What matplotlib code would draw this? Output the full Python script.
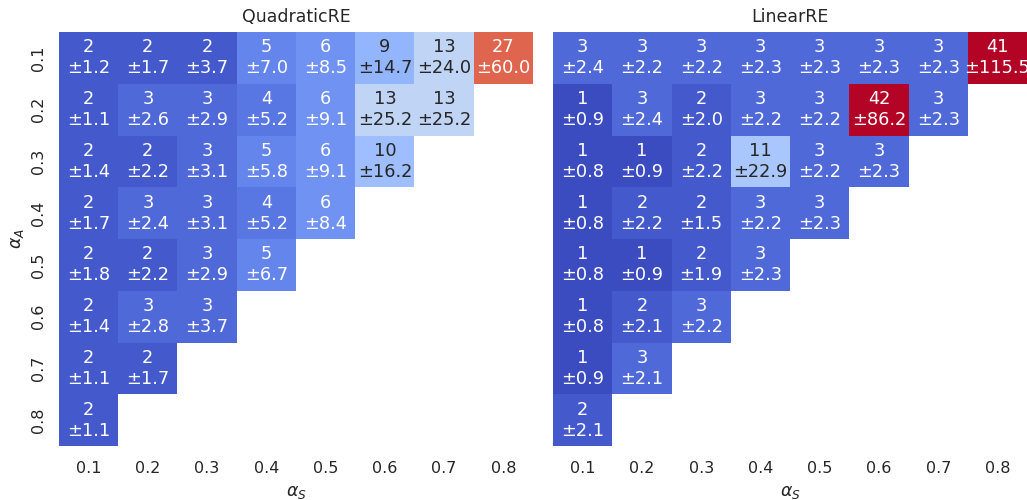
import numpy as np
import matplotlib
matplotlib.use("Agg")
import matplotlib.pyplot as plt
import seaborn as sns

alphas = ["0.1", "0.2", "0.3", "0.4", "0.5", "0.6", "0.7", "0.8"]

# rows = alpha_A, cols = alpha_S (upper-left triangle only)
quad_mean = [
    [2, 2, 2, 5, 6, 9, 13, 27],
    [2, 3, 3, 4, 6, 13, 13],
    [2, 2, 3, 5, 6, 10],
    [2, 3, 3, 4, 6],
    [2, 2, 3, 5],
    [2, 3, 3],
    [2, 2],
    [2],
]
quad_std = [
    [1.2, 1.7, 3.7, 7.0, 8.5, 14.7, 24.0, 60.0],
    [1.1, 2.6, 2.9, 5.2, 9.1, 25.2, 25.2],
    [1.4, 2.2, 3.1, 5.8, 9.1, 16.2],
    [1.7, 2.4, 3.1, 5.2, 8.4],
    [1.8, 2.2, 2.9, 6.7],
    [1.4, 2.8, 3.7],
    [1.1, 1.7],
    [1.1],
]
lin_mean = [
    [3, 3, 3, 3, 3, 3, 3, 41],
    [1, 3, 2, 3, 3, 42, 3],
    [1, 1, 2, 11, 3, 3],
    [1, 2, 2, 3, 3],
    [1, 1, 2, 3],
    [1, 2, 3],
    [1, 3],
    [2],
]
lin_std = [
    [2.4, 2.2, 2.2, 2.3, 2.3, 2.3, 2.3, 115.5],
    [0.9, 2.4, 2.0, 2.2, 2.2, 86.2, 2.3],
    [0.8, 0.9, 2.2, 22.9, 2.2, 2.3],
    [0.8, 2.2, 1.5, 2.2, 2.3],
    [0.8, 0.9, 1.9, 2.3],
    [0.8, 2.1, 2.2],
    [0.9, 2.1],
    [2.1],
]


def to_grid(mean, std):
    n = len(alphas)
    vals = np.full((n, n), np.nan)
    labels = np.full((n, n), "", dtype=object)
    for i in range(n):
        for j in range(len(mean[i])):
            vals[i, j] = mean[i][j]
            labels[i, j] = f"{mean[i][j]}\n±{std[i][j]:.1f}"
    return vals, labels


sns.set_theme(style="white")
fig = plt.figure(figsize=(10.27, 5), dpi=100)
ax1 = fig.add_axes([0.0574, 0.108, 0.4616, 0.828])
ax2 = fig.add_axes([0.5385, 0.108, 0.4616, 0.828])

for ax, mean, std, title in [(ax1, quad_mean, quad_std, "QuadraticRE"),
                             (ax2, lin_mean, lin_std, "LinearRE")]:
    vals, labels = to_grid(mean, std)
    sns.heatmap(vals, ax=ax, annot=labels, fmt="", cmap="coolwarm",
                vmin=1, vmax=31, cbar=False,
                xticklabels=alphas, yticklabels=alphas,
                annot_kws={"fontsize": 12.8})
    ax.set_title(title, fontsize=12.5, pad=7)
    ax.set_xlabel(r"$\alpha_S$", fontsize=12.5, labelpad=5)
    ax.tick_params(axis="x", labelsize=11.5, rotation=0, length=0, pad=11)
    ax.tick_params(axis="y", labelsize=11.5, length=0, pad=9)
    for t in ax.get_yticklabels():
        t.set_rotation(90)
        t.set_va("center")

ax1.set_ylabel(r"$\alpha_A$", fontsize=12.5)
ax2.set_yticklabels([])
ax2.set_ylabel("")

fig.savefig("out.png", dpi=100)
